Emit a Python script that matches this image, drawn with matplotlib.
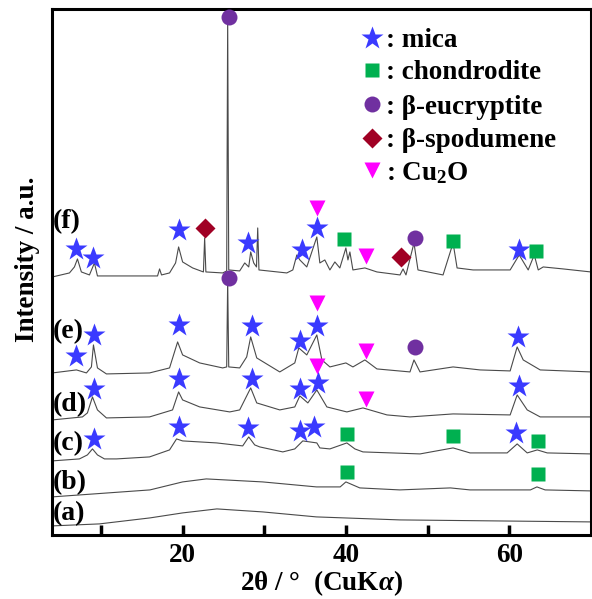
import matplotlib
matplotlib.use("Agg")
import matplotlib.pyplot as plt
from matplotlib.ticker import FixedLocator, FixedFormatter

plt.rcParams['font.family'] = ['Liberation Serif', 'DejaVu Serif']
plt.rcParams['font.weight'] = 'bold'
plt.rcParams['mathtext.fontset'] = 'custom'
plt.rcParams['mathtext.rm'] = 'Liberation Serif:bold'
plt.rcParams['mathtext.it'] = 'Liberation Serif:italic:bold'

# XRD patterns, 2theta (deg) and stacked intensity (a.u.)
tt_a = [4.0, 9.8, 16.0, 20.0, 24.2, 29.8, 36.4, 46.6, 70.0]
int_a = [9, 11, 17, 22, 26, 23, 18, 15, 13]

tt_b = [4.0, 16.0, 20.0, 22.9, 29.8, 36.4, 39.3, 40.0, 41.7, 46.6, 52.8, 55.2, 62.6, 63.4, 64.4, 70.0]
int_b = [38, 45, 53, 56, 53, 48, 48, 53, 47, 45, 47, 45, 45, 48, 45, 44]

tt_c = [4.0, 7.36, 8.34, 8.96, 9.57, 10.43, 11.9, 15.95, 18.4, 19.26, 20.0, 24.17, 27.36, 28.1,
        28.83, 29.45, 32.27, 33.74, 34.72, 36.44, 36.81, 38.04, 40.12, 41.1, 42.09, 49.08, 53.13,
        55.21, 59.75, 60.98, 62.21, 63.44, 64.66, 70.0]
int_c = [74, 76, 80, 86, 80, 76, 76, 78, 85, 96, 94, 92, 89, 98, 90, 88, 83, 86, 94, 92, 87, 86,
         92, 86, 83, 81, 87, 82, 82, 91, 82, 85, 82, 81]

tt_d = [4.05, 7.73, 8.34, 8.96, 9.57, 10.67, 15.95, 18.77, 19.51, 20.0, 22.09, 25.77, 26.99, 28.34,
        29.08, 31.9, 33.74, 34.36, 35.34, 36.44, 37.67, 40.12, 42.09, 45.03, 47.85, 53.13, 60.12,
        60.98, 62.21, 63.8, 70.0]
int_d = [115, 118, 122, 138, 125, 117, 118, 125, 143, 135, 128, 123, 125, 147, 132, 125, 128, 139,
         132, 145, 128, 123, 127, 120, 118, 121, 120, 140, 125, 118, 118]

tt_e = [4.05, 7.0, 8.22, 8.83, 9.08, 9.57, 10.67, 15.95, 18.4, 19.39, 20.0, 22.09, 24.91, 25.4,
        25.52, 25.65, 26.99, 27.85, 28.34, 29.08, 31.9, 33.74, 34.23, 35.21, 36.44, 37.06, 38.04,
        40.0, 40.86, 42.33, 43.8, 47.85, 48.34, 49.08, 53.13, 56.44, 60.12, 60.98, 61.72, 63.8, 70.0]
int_e = [162, 165, 162, 168, 190, 167, 161, 162, 167, 193, 180, 172, 167, 168, 255, 168, 167, 178,
         198, 177, 163, 172, 187, 180, 200, 175, 168, 172, 168, 175, 166, 163, 175, 163, 168, 165,
         164, 188, 175, 165, 163]

tt_f = [4.05, 6.14, 6.75, 7.12, 7.6, 8.59, 9.2, 9.57, 13.87, 16.93, 17.18, 17.42, 18.4, 19.14,
        19.51, 20.0, 21.23, 22.55, 22.7, 22.85, 24.91, 25.4, 25.52, 25.65, 26.99, 27.61, 28.1,
        28.34, 28.71, 29.05, 29.2, 29.35, 32.76, 33.5, 33.99, 34.36, 35.21, 36.44, 36.81, 37.42,
        38.04, 38.65, 39.26, 40.0, 40.25, 40.49, 40.86, 42.33, 43.8, 46.63, 47.0, 47.36, 48.34,
        48.83, 51.9, 53.13, 53.62, 55.58, 56.81, 60.12, 61.23, 62.33, 63.07, 63.56, 64.17, 66.63, 70.0]
int_f = [258, 262, 268, 276, 263, 260, 272, 259, 259, 259, 266, 260, 262, 272, 288, 273, 267, 263,
         297, 263, 262, 264, 518, 265, 264, 272, 268, 283, 272, 268, 307, 265, 262, 265, 280, 275,
         268, 298, 272, 275, 265, 273, 267, 287, 275, 283, 265, 267, 263, 260, 266, 260, 292, 265,
         260, 292, 267, 265, 265, 265, 280, 265, 280, 265, 268, 266, 263]

traces = [(tt_a, int_a), (tt_b, int_b), (tt_c, int_c), (tt_d, int_d), (tt_e, int_e), (tt_f, int_f)]
trace_labels = ['(a)', '(b)', '(c)', '(d)', '(e)', '(f)']
label_y = [21, 52, 91, 130, 203, 313]

# phase markers
mica_x = [7.0, 9.08, 19.51, 27.98, 34.6, 36.44, 61.23,
          7.0, 9.2, 19.51, 28.47, 34.36, 36.44, 61.1,
          9.2, 19.51, 28.47, 34.36, 36.56, 61.23,
          9.2, 19.51, 27.98, 34.36, 36.07, 60.86]
mica_y = [286, 277, 305, 292, 285, 307, 285,
          179, 200, 210, 209, 194, 209, 198,
          146, 156, 156, 146, 152, 149,
          96, 108, 107, 104, 108, 102]
chon_x = [39.75, 53.13, 63.31, 40.12, 53.13, 63.56, 40.12, 63.56]
chon_y = [296, 294, 284, 101, 99, 94, 63, 61]
eucr_x = [25.64, 48.47, 25.64, 48.47]
eucr_y = [518, 297, 257, 188]
spod_x = [22.7, 46.75]
spod_y = [307, 278]
cu2o_x = [36.44, 42.45, 36.44, 42.45, 36.44, 42.45]
cu2o_y = [327, 279, 232, 184, 169, 136]

phase_names = [': mica', ': chondrodite', ': β-eucryptite', ': β-spodumene', ': Cu$_2$O']

fig = plt.figure(figsize=(5.92, 5.99), dpi=100)
ax = fig.add_axes([0.0878, 0.107, 0.9102, 0.878])

for tt, inten in traces:
    ax.plot(tt, inten, color='#4a4a4a', lw=0.8, zorder=2)

for lab, yy in zip(trace_labels, label_y):
    ax.text(4.1, yy, lab, fontsize=20, fontweight='bold', va='center', ha='left')

styles = [
    (mica_x, mica_y, dict(marker='*', ms=17, color='#3a3aff')),
    (chon_x, chon_y, dict(marker='s', ms=9.5, color='#00b050')),
    (eucr_x, eucr_y, dict(marker='o', ms=11.5, color='#7030a0')),
    (spod_x, spod_y, dict(marker='D', ms=10, color='#a00024')),
    (cu2o_x, cu2o_y, dict(marker='v', ms=12, color='#ff00ff')),
]
for xs, ys, st in styles:
    ax.plot(xs, ys, ls='none', mec='none', zorder=3, **st)

# legend drawn as marker + text rows
leg_y = [0.945, 0.884, 0.819, 0.755, 0.694]
for (xs, ys, st), name, yy in zip(styles, phase_names, leg_y):
    ax.plot([0.594], [yy], ls='none', mec='none', transform=ax.transAxes, clip_on=False, **st)
    ax.text(0.619, yy, name, transform=ax.transAxes, fontsize=19.5, fontweight='bold',
            va='center_baseline', ha='left')

ax.set_xlim(4, 70)
ax.set_ylim(0, 526)
ax.set_yticks([])
ax.xaxis.set_major_locator(FixedLocator([10, 20, 30, 40, 50, 60]))
ax.xaxis.set_major_formatter(FixedFormatter(['', '20', '', '40', '', '60']))
ax.tick_params(axis='x', direction='in', length=7, width=2.5, labelsize=19.5, pad=6)
for sp in ax.spines.values():
    sp.set_linewidth(2.2)

ax.set_xlabel('2θ / °  (CuK$\\it{α}$)', fontsize=19.5, fontweight='bold', labelpad=0)
ax.set_ylabel('Intensity / a.u.', fontsize=19.5, fontweight='bold')
ax.yaxis.set_label_coords(-0.022, 0.525)

fig.savefig('out.png', dpi=100)
